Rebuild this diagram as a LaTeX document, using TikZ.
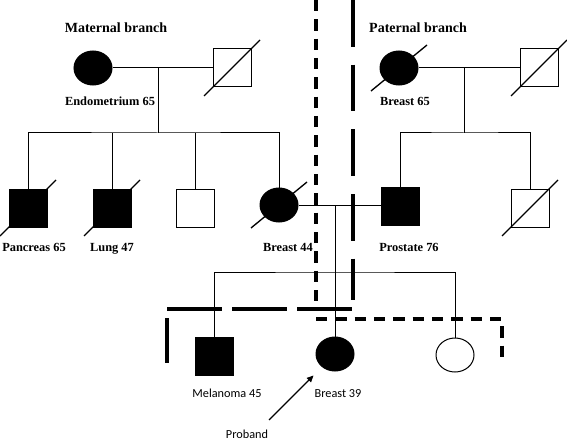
\documentclass[tikz,border=0pt]{standalone}
\usepackage{fontspec}
\setmainfont{Liberation Serif}
\newfontfamily\calib{Carlito}
\usepackage{tikz}
\usetikzlibrary{positioning,arrows.meta,calc,shapes.geometric}
\newcommand{\dead}[3]{\draw[slash] ($(#1)+(-#2,#3)$) -- ($(#1)+(#2,-#3)$);}
\tikzset{
  male/.style       = {rectangle, draw, fill=#1, line width=0.75pt, minimum size=28.5pt, inner sep=0pt},
  male/.default     = white,
  female/.style     = {ellipse, draw, fill=#1, line width=0.75pt, minimum width=28.5pt,
                       minimum height=25.5pt, inner sep=0pt},
  female/.default   = white,
  kin/.style        = {line width=0.75pt},
  slash/.style      = {line width=1pt},
  branch/.style     = {font=\fontsize{10.5}{12}\selectfont\bfseries, anchor=base, inner sep=0pt},
  cancer/.style     = {font=\fontsize{9.3}{11}\selectfont\bfseries, anchor=base, inner sep=0pt},
  cancersans/.style = {font=\calib\fontsize{9.2}{11}\selectfont, anchor=base, inner sep=0pt},
  longdash/.style   = {line width=3pt, dash pattern=on 35pt off 13.5pt},
  shortdash/.style  = {line width=3pt, dash pattern=on 8.5pt off 6pt},
  pointer/.style    = {-{Triangle[length=5pt,width=4.5pt]}, line width=1pt},
}

\begin{document}
\begin{tikzpicture}[x=0.75pt, y=-0.75pt]
  \useasboundingbox (0,0) rectangle (567,442);

  % grandparents
  \node[female=black] (mgm) at (93,68) {};
  \node[male] (mgf) at (232,68) {};
  \node[female=black] (pgm) at (399,68) {};
  \node[male] (pgf) at (539,68) {};
  % parents and their siblings
  \node[male=black] (pan) at (28,208) {};
  \node[male=black] (lung) at (112,208) {};
  \node[male] (bro) at (195,208) {};
  \node[female=black] (mom) at (279,205) {};
  \node[male=black] (dad) at (400,206) {};
  \node[male] (unc) at (530,208) {};
  % proband and siblings
  \node[male=black] (mel) at (214,356) {};
  \node[female=black] (prob) at (335,354) {};
  \node[female] (sis) at (455,355) {};

  \coordinate (mdrop) at (158,133);
  \coordinate (pdrop) at (464,133);
  \coordinate (kdrop) at (335,205);
  \coordinate (sib) at (335,272);

  \draw[kin] (mgm) -- (mgf);
  \draw[kin] (mdrop |- mgm) -- (mdrop);
  \draw[kin] (pan.north) |- (mdrop) -| (mom.north);
  \draw[kin] (lung.north) -- (lung |- mdrop);
  \draw[kin] (bro.north) -- (bro |- mdrop);
  \draw[kin] (pgm) -- (pgf);
  \draw[kin] (pdrop |- pgm) -- (pdrop);
  \draw[kin] (dad.north) |- (pdrop) -| (unc.north);
  \draw[kin] (mom.east) -- (mom.east -| dad.west);
  \draw[kin] (kdrop) -- (prob);
  \draw[kin] (mel.north) |- (sib) -| (sis.north);

  % deceased
  \dead{mgf}{28}{28}
  \dead{pgm}{28}{23}
  \dead{pgf}{28}{28}
  \dead{pan}{28}{28}
  \dead{lung}{28}{28}
  \dead{mom}{28}{23}
  \dead{unc}{28}{28}

  \node[branch] (mat) at (116,33) {Maternal branch};
  \node[branch] (pat) at (418,33) {Paternal branch};
  \node[cancer] (lmgm) at (110,106) {Endometrium 65};
  \node[cancer] (lpgm) at (405,106) {Breast 65};
  \node[cancer] (lpan) at (34,251) {Pancreas 65};
  \node[cancer] (llung) at (112,251) {Lung 47};
  \node[cancer] (lmom) at (288,251) {Breast 44};
  \node[cancer] (ldad) at (409,251) {Prostate 76};
  \node[cancersans] (lmel) at (227,397) {Melanoma 45};
  \node[cancersans] (lprob) at (338,397) {Breast 39};
  \node[cancersans] (pband) at (247,438) {Proband};

  \coordinate (ptail) at (269,420);
  \draw[pointer, shorten >=9pt] (ptail) -- (prob);

  % branch boundaries
  \draw[shortdash] (316,0) -- (316,307);
  \draw[shortdash] (316,319) -- (502,319) -- (502,363);
  \draw[longdash] (353,0) -- (353,300);
  \draw[longdash, dash pattern=on 41.25pt off 7.5pt] (167,309) -- (353,309);
  \draw[longdash] (167,318) -- (167,363);
\end{tikzpicture}
\end{document}
